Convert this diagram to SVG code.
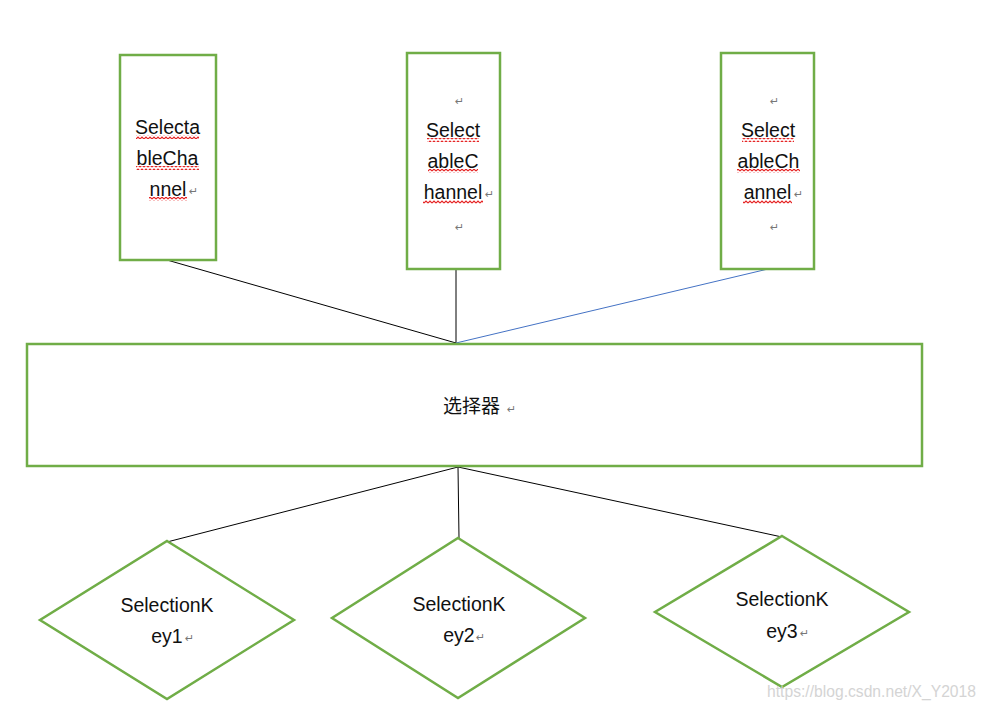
<svg xmlns="http://www.w3.org/2000/svg" width="987" height="709" viewBox="0 0 987 709">
<style>
.box{fill:#fff;stroke:#70AD47;stroke-width:2.5}
.t{font-family:"Liberation Sans","Noto Sans CJK SC",sans-serif;font-size:19.5px;fill:#111;text-anchor:middle}
.cn{font-family:"Noto Sans CJK SC",sans-serif;font-size:19px;fill:#111}
.r{font-family:"DejaVu Sans",sans-serif;font-size:11px;fill:#777}
.ln{stroke:#000;stroke-width:1;fill:none}
.sq{fill:url(#sq)}
.wm{font-family:"Liberation Sans",sans-serif;font-size:16px;fill:#d4d4d4}
</style>
<defs>
<pattern id="sq" width="4" height="4" patternUnits="userSpaceOnUse">
<path d="M0,3 L2,1 L4,3" stroke="#e52020" stroke-width="1.1" fill="none"/>
</pattern>
</defs>
<rect width="987" height="709" fill="#fff"/>
<g id="connectors">
<line class="ln" x1="167" y1="260" x2="456" y2="343"/>
<line class="ln" x1="456" y1="269" x2="456" y2="343"/>
<line x1="768" y1="269" x2="456" y2="343" stroke="#4472C4" stroke-width="1"/>
<line class="ln" x1="458" y1="467" x2="167" y2="542"/>
<line class="ln" x1="458" y1="467" x2="459" y2="538"/>
<line class="ln" x1="458" y1="467" x2="782" y2="537"/>
</g>
<g id="channel1">
<rect class="box" x="120" y="55" width="96" height="205"/>
<text class="t" x="167.5" y="134">Selecta</text>
<text class="t" x="167.5" y="165">bleCha</text>
<text class="t" x="168" y="196">nnel</text>
<text class="r" x="189" y="195">↵</text>
<rect class="sq" x="136" y="135" width="63" height="4"/>
<rect class="sq" x="136" y="166" width="63" height="4"/>
<rect class="sq" x="149" y="197" width="38" height="4"/>
</g>
<g id="channel2">
<rect class="box" x="407" y="53" width="93" height="216"/>
<text class="r" x="455" y="105">↵</text>
<text class="t" x="453" y="137">Select</text>
<text class="t" x="453" y="168">ableC</text>
<text class="t" x="453" y="199">hannel</text>
<text class="r" x="485" y="198">↵</text>
<text class="r" x="455" y="231">↵</text>
<rect class="sq" x="427" y="138" width="52" height="4"/>
<rect class="sq" x="428" y="169" width="50" height="4"/>
<rect class="sq" x="423" y="200" width="60" height="4"/>
</g>
<g id="channel3">
<rect class="box" x="721" y="53" width="93" height="216"/>
<text class="r" x="770" y="105">↵</text>
<text class="t" x="768" y="137">Select</text>
<text class="t" x="768.5" y="168">ableCh</text>
<text class="t" x="767.5" y="199">annel</text>
<text class="r" x="794" y="198">↵</text>
<text class="r" x="770" y="231">↵</text>
<rect class="sq" x="742" y="138" width="52" height="4"/>
<rect class="sq" x="737" y="169" width="63" height="4"/>
<rect class="sq" x="743" y="200" width="49" height="4"/>
</g>
<g id="selector">
<rect class="box" x="27" y="344" width="895" height="122"/>
<text class="cn" x="443" y="413">选择器</text>
<text class="r" x="507" y="413">↵</text>
</g>
<g id="key1">
<polygon class="box" points="167,541 294,620 167,699 40,620"/>
<text class="t" x="167" y="612">SelectionK</text>
<text class="t" x="167" y="643">ey1</text>
<text class="r" x="185" y="642">↵</text>
</g>
<g id="key2">
<polygon class="box" points="458,538 585,618 458,698 332,618"/>
<text class="t" x="459" y="611">SelectionK</text>
<text class="t" x="459" y="642">ey2</text>
<text class="r" x="476" y="641">↵</text>
</g>
<g id="key3">
<polygon class="box" points="782,536 909,612 782,687 655,612"/>
<text class="t" x="782" y="606">SelectionK</text>
<text class="t" x="782" y="638">ey3</text>
<text class="r" x="800" y="637">↵</text>
</g>
<text class="wm" x="767" y="697" textLength="209" lengthAdjust="spacingAndGlyphs">https://blog.csdn.net/X_Y2018</text>
</svg>
